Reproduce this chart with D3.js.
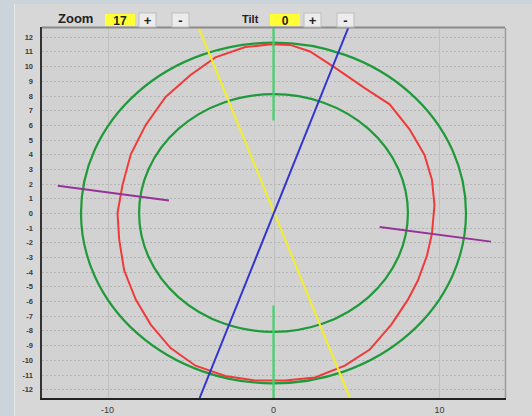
<!DOCTYPE html>
<html>
<head>
<meta charset="utf-8">
<script src="https://cdn.jsdelivr.net/npm/d3@7"></script>
<style>
  body { margin: 0; background: #cbd4db; }
  svg { display: block; }
</style>
</head>
<body>
<svg id="chart" width="532" height="416"></svg>
<script>
"use strict";

// values
const yTicks = [12, 11, 10, 9, 8, 7, 6, 5, 4, 3, 2, 1, 0, -1, -2, -3, -4, -5, -6, -7, -8, -9, -10, -11, -12];
const xTicks = [-10, 0, 10];
const ringRadii = [11.6, 8.1];
const controlLabels = ["Zoom", "Tilt"];
const controlValues = ["17", "0"];

// red trace, counter-clockwise from the top
const redTrace = [
  [-0.1, 11.5], [-1.7, 11.3], [-3.5, 10.6], [-5.0, 9.4], [-6.5, 7.9], [-7.7, 6.0],
  [-8.6, 4.0], [-9.1, 1.9], [-9.4, 0.0], [-9.3, -1.8], [-9.0, -3.9], [-8.3, -5.9],
  [-7.4, -7.6], [-6.2, -9.2], [-4.7, -10.4], [-2.9, -11.1], [-1.1, -11.4], [0.7, -11.4],
  [2.5, -11.2], [4.3, -10.4], [5.8, -9.3], [7.1, -7.6], [8.1, -5.9], [8.7, -4.6],
  [9.25, -2.9], [9.55, -1.4], [9.7, 0.55], [9.55, 2.25], [9.1, 3.95], [8.2, 5.7],
  [7.0, 7.4], [5.5, 8.5], [3.7, 9.9], [2.2, 11.0], [1.0, 11.45], [-0.1, 11.5]
];

const yellowLine = [[-4.5, 12.6], [4.6, -12.6]];
const blueLine = [[4.5, 12.6], [-4.45, -12.6]];
const greenMarks = [[[0, 12.6], [0, 6.3]], [[0, -6.3], [0, -12.6]]];
const purpleMarks = [[[-13.0, 1.85], [-6.3, 0.85]], [[6.4, -0.95], [13.1, -1.95]]];

const svg = d3.select("#chart");

// outer panel
svg.append("rect").attr("x", 14).attr("y", 4).attr("width", 518).attr("height", 412)
  .attr("fill", "#d7d7d7");
svg.append("line").attr("x1", 14.5).attr("x2", 14.5).attr("y1", 4).attr("y2", 416)
  .attr("stroke", "#e6e6e6");

const pLeft = 42, pRight = 505, pTop = 28, pBottom = 398;

const x = d3.scaleLinear().domain([-13.95, 13.95]).range([pLeft, pRight]);
const y = d3.scaleLinear().domain([-12.6, 12.6]).range([pBottom, pTop]);

const plot = svg.append("g");
plot.append("rect").attr("x", pLeft).attr("y", pTop)
  .attr("width", pRight - pLeft).attr("height", pBottom - pTop)
  .attr("fill", "#d2d2d2");

// grid
plot.selectAll("line.hgrid").data(yTicks).join("line")
  .attr("class", "hgrid")
  .attr("x1", pLeft).attr("x2", pRight)
  .attr("y1", d => Math.round(y(d)) + 0.5).attr("y2", d => Math.round(y(d)) + 0.5)
  .attr("stroke", "#b4b4b4").attr("stroke-dasharray", "2,2");
plot.selectAll("line.vgrid").data(xTicks).join("line")
  .attr("class", "vgrid")
  .attr("x1", d => Math.round(x(d)) + 0.5).attr("x2", d => Math.round(x(d)) + 0.5)
  .attr("y1", pTop).attr("y2", pBottom)
  .attr("stroke", "#c0c0c0");

// rings
plot.selectAll("ellipse.ring").data(ringRadii).join("ellipse")
  .attr("class", "ring")
  .attr("cx", x(0)).attr("cy", y(0))
  .attr("rx", r => x(r) - x(0)).attr("ry", r => y(0) - y(r))
  .attr("fill", "none").attr("stroke", "#1f9a3a").attr("stroke-width", 2.2);

const line = d3.line().x(d => x(d[0])).y(d => y(d[1]));

plot.append("path").datum(redTrace)
  .attr("d", line)
  .attr("fill", "none").attr("stroke", "#f03a3a").attr("stroke-width", 2);

plot.selectAll("path.green").data(greenMarks).join("path")
  .attr("class", "green")
  .attr("d", line)
  .attr("stroke", "#3fd66a").attr("stroke-width", 2.2);

plot.append("path").datum(yellowLine).attr("d", line)
  .attr("stroke", "#f2ee2c").attr("stroke-width", 2);
plot.append("path").datum(blueLine).attr("d", line)
  .attr("stroke", "#3232d0").attr("stroke-width", 2);

plot.selectAll("path.purple").data(purpleMarks).join("path")
  .attr("class", "purple")
  .attr("d", line)
  .attr("stroke", "#963296").attr("stroke-width", 2);

// frame
svg.append("line").attr("x1", pLeft).attr("x2", pRight).attr("y1", pTop - 0.5).attr("y2", pTop - 0.5)
  .attr("stroke", "#8a8a8a").attr("stroke-width", 2);
svg.append("line").attr("x1", pRight + 0.5).attr("x2", pRight + 0.5).attr("y1", pTop).attr("y2", pBottom)
  .attr("stroke", "#9a9a9a").attr("stroke-width", 1.5);
svg.append("line").attr("x1", pLeft - 1).attr("x2", pLeft - 1).attr("y1", pTop - 1).attr("y2", pBottom + 1)
  .attr("stroke", "#333").attr("stroke-width", 2);
svg.append("line").attr("x1", pLeft - 2).attr("x2", pRight + 1).attr("y1", pBottom + 1).attr("y2", pBottom + 1)
  .attr("stroke", "#222").attr("stroke-width", 2);

// tick labels
svg.selectAll("text.ylab").data(yTicks).join("text")
  .attr("class", "ylab")
  .attr("x", 33).attr("y", d => y(d) + 3)
  .attr("text-anchor", "end")
  .attr("font-family", "Liberation Sans, Arial, sans-serif")
  .attr("font-size", 7.5).attr("font-weight", "bold").attr("fill", "#3a3a3a")
  .text(d => d);

svg.selectAll("text.xlab").data(xTicks).join("text")
  .attr("class", "xlab")
  .attr("x", d => x(d)).attr("y", 413)
  .attr("text-anchor", "middle")
  .attr("font-family", "Liberation Sans, Arial, sans-serif")
  .attr("font-size", 9).attr("fill", "#3a3a3a")
  .text(d => d);

// control bar
const ctrlX = [58, 242];
controlLabels.forEach((lab, i) => {
  const g = svg.append("g").attr("transform", `translate(${ctrlX[i]},0)`);
  g.append("text").attr("x", 0).attr("y", 23)
    .attr("font-family", "Liberation Sans, Arial, sans-serif")
    .attr("font-size", i === 0 ? 13 : 11).attr("font-weight", "bold").attr("fill", "#222")
    .text(lab);
  const bx = i === 0 ? 47 : 28;
  g.append("rect").attr("x", bx).attr("y", 14).attr("width", 30).attr("height", 12)
    .attr("fill", "#ffff33");
  g.append("text").attr("x", bx + 15).attr("y", 24.5).attr("text-anchor", "middle")
    .attr("font-family", "Liberation Sans, Arial, sans-serif")
    .attr("font-size", 12).attr("font-weight", "bold").attr("fill", "#222")
    .text(controlValues[i]);
  ["+", "-"].forEach((s, j) => {
    const px = bx + 34 + j * 33;
    g.append("rect").attr("x", px).attr("y", 13).attr("width", 17).attr("height", 14)
      .attr("fill", "#ececec").attr("stroke", "#bdbdbd");
    g.append("text").attr("x", px + 8.5).attr("y", 24.5).attr("text-anchor", "middle")
      .attr("font-family", "Liberation Sans, Arial, sans-serif")
      .attr("font-size", 13).attr("font-weight", "bold").attr("fill", "#222")
      .text(s);
  });
});
</script>
</body>
</html>
